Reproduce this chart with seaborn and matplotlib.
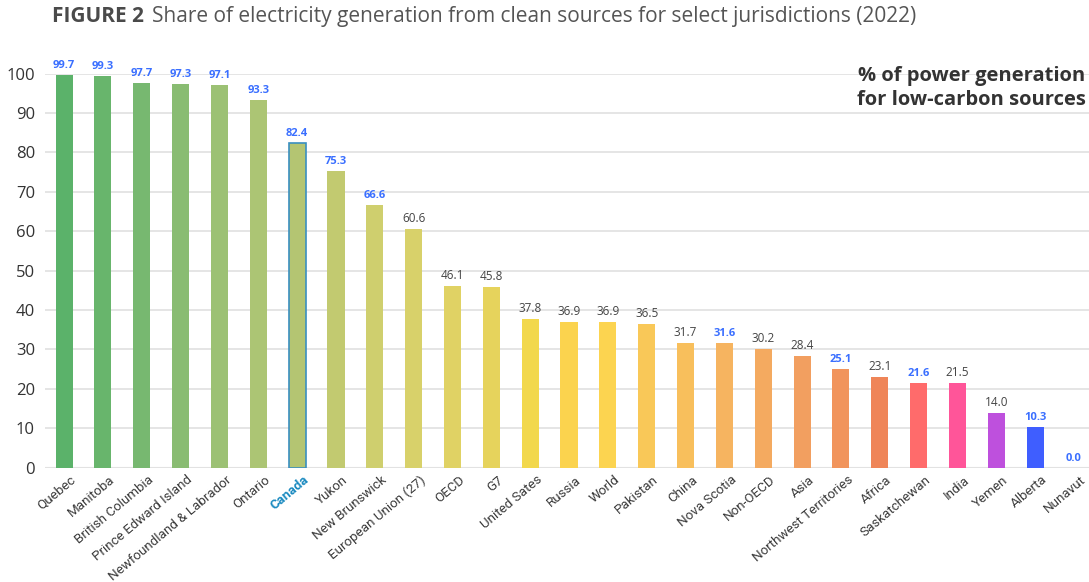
import matplotlib
matplotlib.use("Agg")
import matplotlib.pyplot as plt
import matplotlib.transforms as mtransforms
import seaborn as sns
import pandas as pd

categories = ["Quebec", "Manitoba", "British Columbia", "Prince Edward Island",
              "Newfoundland & Labrador", "Ontario", "Canada", "Yukon", "New Brunswick",
              "European Union (27)", "OECD", "G7", "United Sates", "Russia", "World",
              "Pakistan", "China", "Nova Scotia", "Non-OECD", "Asia",
              "Northwest Territories", "Africa", "Saskatchewan", "India", "Yemen",
              "Alberta", "Nunavut"]
values = [99.7, 99.3, 97.7, 97.3, 97.1, 93.3, 82.4, 75.3, 66.6, 60.6, 46.1, 45.8,
          37.8, 36.9, 36.9, 36.5, 31.7, 31.6, 30.2, 28.4, 25.1, 23.1, 21.6, 21.5,
          14.0, 10.3, 0.0]
canadian = ["Quebec", "Manitoba", "British Columbia", "Prince Edward Island",
            "Newfoundland & Labrador", "Ontario", "Canada", "Yukon", "New Brunswick",
            "Nova Scotia", "Northwest Territories", "Saskatchewan", "Alberta", "Nunavut"]
bar_colors = ["#5bb26a", "#68b56c", "#77b870", "#89bc72", "#9cc174", "#acc574",
              "#b4c572", "#c2ca70", "#cfcf6e", "#d8d16a", "#e0d264", "#e6d35c",
              "#f2d84c", "#fbd34e", "#fcd450", "#f9c858", "#f8bf5c", "#f6b460",
              "#f4aa60", "#f29f60", "#f1945c", "#ef8558", "#ff6b6b", "#ff5599",
              "#be50dd", "#3f5eff", "#3f5eff"]
y_ticks = [0, 10, 20, 30, 40, 50, 60, 70, 80, 90, 100]
title_bold = "FIGURE 2"
title_rest = "Share of electricity generation from clean sources for select jurisdictions (2022)"
note = "% of power generation\nfor low-carbon sources"

df = pd.DataFrame({"cat": categories, "val": values})

sns.set_theme(style="white")
plt.rcParams["font.family"] = ["Open Sans", "DejaVu Sans"]

fig = plt.figure(figsize=(10.89, 5.82), dpi=100)
ax = fig.add_axes([0.041, 0.1964, 0.963, 0.677])

sns.barplot(data=df, x="cat", y="val", hue="cat", palette=bar_colors,
            legend=False, width=0.44, ax=ax, saturation=1, linewidth=0)

for i, p in enumerate(ax.patches[:len(categories)]):
    if categories[i] == "Canada":
        p.set_edgecolor("#3a8fc0")
        p.set_linewidth(1.2)

ax.set_xlim(-0.5, 26.5)
ax.set_ylim(0, 100)
ax.set_yticks(y_ticks)
ax.set_yticklabels([str(t) for t in y_ticks], fontsize=12, color="#333333")
ax.yaxis.grid(True, color="#e3e3e3", linewidth=1.3)
ax.set_axisbelow(True)
for s in ax.spines.values():
    s.set_visible(False)
ax.axhline(0, color="#dcdcdc", linewidth=1.5, zorder=0)
ax.set_xlabel("")
ax.set_ylabel("")
ax.tick_params(axis="y", length=0, pad=7)
ax.tick_params(axis="x", length=0, pad=4)

ax.set_xticks(range(len(categories)))
ax.set_xticklabels(categories, rotation=40, ha="right", rotation_mode="anchor",
                   fontsize=9.6, color="#3a3a3a", family=["Roboto", "DejaVu Sans"])
offset = mtransforms.ScaledTranslation(6 / 100, 0, fig.dpi_scale_trans)
for lbl in ax.get_xticklabels():
    lbl.set_transform(lbl.get_transform() + offset)
    if lbl.get_text() == "Canada":
        lbl.set_color("#1a8ac0")
        lbl.set_fontweight("bold")

for i, (c, v) in enumerate(zip(categories, values)):
    if c in canadian:
        ax.text(i, v + 1.0, f"{v:.1f}", ha="center", va="bottom", fontsize=8,
                fontweight="bold", color="#3a6fff", clip_on=False)
    else:
        ax.text(i, v + 1.0, f"{v:.1f}", ha="center", va="bottom", fontsize=8.5,
                color="#444444", clip_on=False)

fig.text(0.997, 0.887, note, ha="right", va="top", fontsize=14.5,
         fontweight="bold", color="#333333", linespacing=1.3)

t1 = fig.text(0.048, 0.972, title_bold, ha="left", va="center", fontsize=15,
              fontweight="bold", color="#4a4a4a")
fig.canvas.draw()
bb = t1.get_window_extent()
x2 = (bb.x1 + 8) / fig.bbox.width
fig.text(x2, 0.972, title_rest, ha="left", va="center", fontsize=15,
         color="#555555")

fig.savefig("out.png", dpi=100)
